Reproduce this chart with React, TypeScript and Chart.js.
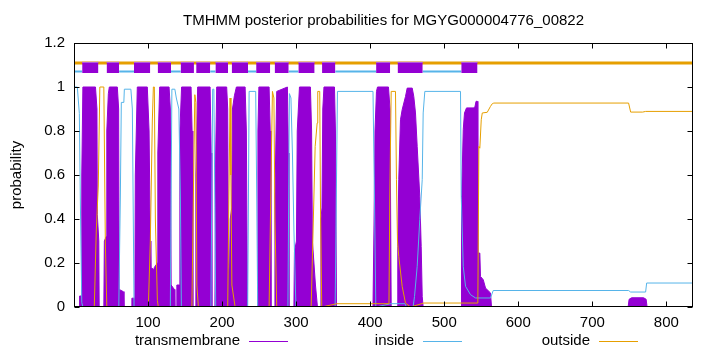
import { useEffect, useRef } from "react";
import { Chart, registerables } from "chart.js";

Chart.register(...registerables);

const TITLE = "TMHMM posterior probabilities for MGYG000004776_00822";
const Y_LABEL = "probability";
const SEQ_LENGTH = 836;
const X_TICKS = [100, 200, 300, 400, 500, 600, 700, 800];
const Y_TICKS = [0, 0.2, 0.4, 0.6, 0.8, 1, 1.2];
const LEGEND_LABELS = ["transmembrane", "inside", "outside"];

// predicted topology (top band)
const TM_START = [11, 44, 81, 113, 144, 165, 191, 213, 246, 271, 303, 335, 408, 437, 523];
const TM_END = [33, 61, 103, 131, 162, 184, 208, 235, 265, 290, 325, 353, 427, 471, 545];
const INSIDE_START = [0, 61, 131, 184, 235, 290, 353, 471];
const INSIDE_END = [11, 81, 144, 191, 246, 303, 408, 523];
const TOPO_OUTSIDE_Y = 1.109;
const TOPO_INSIDE_Y = 1.07;
const TOPO_TM_TOP = 1.112;
const TOPO_TM_BOTTOM = 1.064;

// posterior probabilities: [residue, probability]
const transmembrane: [number, number][] = [
  [0, 0], [7, 0], [7.5, 0.05], [10, 0.05], [10.5, 0.6], [12, 1], [29, 1], [31, 0.9], [31.5, 0.42], [33.5, 0.3], [34, 0],
  [40.3, 0], [41, 0.3], [43.5, 0.32], [44.3, 0.8], [46.4, 0.97], [47.7, 1], [58.5, 1], [60.3, 0.9], [61, 0.08], [66.5, 0.07], [67.5, 0],
  [77.8, 0], [78.2, 0.04], [82.2, 0.04], [82.8, 0.6], [85.5, 1], [99, 1], [101.4, 0.8], [103, 0.3], [103.8, 0.18], [107.8, 0.17],
  [108.5, 0.18], [112.6, 0.2], [113.2, 0.7], [115.7, 1], [128.4, 1], [130.1, 0.9], [131.2, 0.1], [135.5, 0.08], [136.2, 0],
  [138.2, 0], [138.9, 0.1], [142.3, 0.1], [143, 0.8], [145.3, 1], [158.1, 1], [159.5, 0.8], [160.5, 0],
  [163.6, 0], [164.6, 0.6], [167, 1], [183.8, 1], [185.3, 0.7], [186.2, 0],
  [190.3, 0], [191.4, 0.7], [192.7, 1], [206.2, 1], [207.6, 0.9], [208.5, 0.2], [210, 0.15], [211, 0.4], [213, 0.45], [214, 0.9],
  [216.6, 0.96], [219.3, 1], [231.1, 1], [232.8, 0.8], [234.2, 0],
  [247.4, 0], [248.4, 0.8], [249.7, 1], [263.5, 1], [265, 0.8], [266, 0],
  [270.4, 0], [271.4, 0.5], [273.8, 0.98], [288.2, 1], [289.6, 0.7], [290.3, 0],
  [297, 0], [297.7, 0.25], [300.4, 0.3], [301.5, 0.8], [304.5, 1], [319.3, 1], [320.9, 0.8], [322, 0.3], [326.1, 0.1], [328.8, 0],
  [332.8, 0], [333.5, 0.4], [334.9, 0.45], [336, 0.9], [337.6, 1], [351.8, 1], [353.1, 0.8], [354.5, 0],
  [403.8, 0], [405.1, 0.35], [406.5, 0.8], [408.5, 0.98], [409.9, 1], [424.7, 1], [426.8, 0.9], [428.4, 0],
  [436.5, 0], [437.3, 0.275], [438.6, 0.579], [440.9, 0.851], [443.2, 0.897], [447.7, 0.957], [450, 0.995], [456.8, 0.995],
  [458.9, 0.957], [461.2, 0.882], [463.5, 0.73], [467, 0.503], [468.9, 0.275], [470.3, 0.048], [471.6, 0],
  [523, 0], [523.4, 0.488], [525.7, 0.806], [527.4, 0.882], [530.1, 0.905], [540, 0.905], [541.6, 0.912], [543, 0.935],
  [544.6, 0.935], [545.4, 0.245], [548.1, 0.245], [549, 0.139], [552.7, 0.124], [555.8, 0.086], [562.5, 0.064], [563.9, 0],
  [748.4, 0], [749.7, 0.035], [753.1, 0.042], [769.3, 0.042], [772.7, 0.035], [774, 0], [836, 0],
];

const inside: [number, number][] = [
  [0, 1], [4.5, 1], [7.2, 0.88], [8.5, 0.5], [10.5, 0.02], [12, 0],
  [60.5, 0], [62.6, 0.5], [63.9, 0.93], [67.3, 0.93], [68, 0.99], [76.8, 0.99], [78.8, 0.9], [81.1, 0],
  [130.1, 0], [132.2, 0.99], [136.2, 0.99], [138.2, 0.95], [141.6, 0.9], [143.7, 0.5], [145, 0],
  [184.9, 0], [187.3, 0.99], [188.9, 0.99], [191.4, 0],
  [234.6, 0], [236.5, 0.98], [245.4, 0.98], [246.8, 0.5], [248.1, 0],
  [288.9, 0], [290.9, 0.97], [293, 0.95], [295, 0.7], [297, 0.35], [299.7, 0],
  [352.7, 0], [355.8, 0.98], [403.8, 0.98], [405.8, 0.5], [407.6, 0],
  [428, 0.015], [447, 0.015], [449, 0], [458, 0], [459.9, 0.048], [463.5, 0.185], [467, 0.397], [470.3, 0.579],
  [471.6, 0.882], [473.8, 0.98], [522, 0.98], [523, 0.503], [525.7, 0.185], [528.8, 0.094], [535.5, 0.056],
  [542.3, 0.041], [562.5, 0.041], [566.2, 0.075], [749, 0.075], [751.8, 0.068], [772, 0.068], [773.4, 0.109], [836, 0.109],
];

const outside: [number, number][] = [
  [0, 0], [27.4, 0], [30.1, 0.35], [32.8, 0.55], [34.9, 1], [40.3, 1], [42.3, 0.3], [44.3, 0],
  [100.4, 0], [103.1, 0.3], [105.8, 0.85], [107.2, 1], [108.5, 1], [109.9, 0.4], [112.6, 0.03], [113.9, 0],
  [159.2, 0], [161.2, 0.5], [163.2, 0.965], [164.6, 0.93], [165.9, 0.1], [168, 0],
  [207.6, 0], [209.2, 0.5], [210.8, 0.95], [211.9, 0.6], [213.2, 0.1], [217.6, 0],
  [263.5, 0], [266.2, 0.6], [268, 0.98], [270, 0.95], [271.4, 0.4], [273.8, 0],
  [320.3, 0], [325.7, 0.73], [328.4, 0.836], [329.2, 0.98], [331.9, 0.98], [332.8, 0.5], [334.6, 0], [355, 0.015],
  [425.4, 0.015], [426.5, 0.5], [428.4, 0.98], [434.2, 0.98], [435.5, 0.579], [436.9, 0.3], [438.6, 0.23], [443.2, 0.094],
  [447.7, 0.018], [454.5, 0], [472.4, 0.018], [545.4, 0.018], [546.8, 0.73], [548.1, 0.722], [550, 0.851], [551.4, 0.882],
  [558.1, 0.885], [562.5, 0.912], [564.9, 0.924], [567, 0.927], [749, 0.927], [751.8, 0.886], [768, 0.886], [772, 0.889], [836, 0.889],
];

const COLORS = { tm: "#9400D3", inside: "#56B4E9", outside: "#E69F00" };
const FONT = '"Liberation Sans", Arial, Helvetica, sans-serif';

const toXY = (arr: [number, number][]) => arr.map(([x, y]) => ({ x, y }));

const framePlugin = {
  id: "gnuplotFrame",
  afterDatasetsDraw(chart: any) {
    const { ctx, chartArea: a, scales } = chart;
    const L = Math.round(a.left) + 0.5;
    const R = Math.round(a.right) - 0.5;
    const T = Math.round(a.top) + 0.5;
    const B = Math.round(a.bottom) - 0.5;
    ctx.save();
    ctx.strokeStyle = "#000";
    ctx.lineWidth = 1;
    ctx.beginPath();
    X_TICKS.forEach((v) => {
      const x = Math.round(scales.x.getPixelForValue(v)) + 0.5;
      ctx.moveTo(x, B);
      ctx.lineTo(x, B - 5);
      ctx.moveTo(x, T);
      ctx.lineTo(x, T + 5);
    });
    Y_TICKS.forEach((v) => {
      const y = Math.round(scales.y.getPixelForValue(v)) + 0.5;
      ctx.moveTo(L, y);
      ctx.lineTo(L + 5, y);
      ctx.moveTo(R, y);
      ctx.lineTo(R - 5, y);
    });
    ctx.stroke();
    ctx.strokeRect(L, T, R - L, B - T);
    ctx.restore();
  },
  afterDraw(chart: any) {
    const { ctx, chartArea: a } = chart;
    ctx.save();
    ctx.fillStyle = "#000";
    ctx.font = `15px ${FONT}`;
    ctx.textAlign = "center";
    ctx.textBaseline = "middle";
    ctx.fillText(TITLE, (a.left + a.right) / 2, 21);
    ctx.save();
    ctx.translate(17, (a.top + a.bottom) / 2);
    ctx.rotate(-Math.PI / 2);
    ctx.fillText(Y_LABEL, 0, 0);
    ctx.restore();
    const legendY = 341;
    const textRight = [240, 414, 590];
    const colors = [COLORS.tm, COLORS.inside, COLORS.outside];
    ctx.textAlign = "right";
    LEGEND_LABELS.forEach((label, i) => {
      ctx.fillStyle = "#000";
      ctx.fillText(label, textRight[i], legendY);
      ctx.strokeStyle = colors[i];
      ctx.lineWidth = 1;
      ctx.beginPath();
      ctx.moveTo(textRight[i] + 9, legendY + 0.5);
      ctx.lineTo(textRight[i] + 48, legendY + 0.5);
      ctx.stroke();
    });
    ctx.restore();
  },
};

export default function App() {
  const ref = useRef<HTMLCanvasElement>(null);
  useEffect(() => {
    const insideBand: any[] = [];
    INSIDE_START.forEach((s, i) => {
      insideBand.push({ x: s, y: TOPO_INSIDE_Y }, { x: INSIDE_END[i], y: TOPO_INSIDE_Y }, { x: INSIDE_END[i], y: null });
    });
    const tmBoxes = TM_START.map((s, i) => ({
      data: [
        { x: s, y: TOPO_TM_TOP },
        { x: TM_END[i], y: TOPO_TM_TOP },
      ],
      borderColor: "#B564E6",
      backgroundColor: COLORS.tm,
      borderWidth: 1,
      fill: { value: TOPO_TM_BOTTOM },
      pointRadius: 0,
      order: 0,
    }));
    const chart = new Chart(ref.current as HTMLCanvasElement, {
      type: "line",
      data: {
        datasets: [
          ...tmBoxes,
          {
            data: [
              { x: 0, y: TOPO_OUTSIDE_Y },
              { x: SEQ_LENGTH, y: TOPO_OUTSIDE_Y },
            ],
            borderColor: COLORS.outside,
            borderWidth: 3,
            fill: false,
            pointRadius: 0,
            order: 5,
          },
          {
            data: insideBand,
            borderColor: COLORS.inside,
            borderWidth: 2,
            fill: false,
            spanGaps: false,
            pointRadius: 0,
            order: 4,
          },
          {
            data: toXY(outside),
            borderColor: COLORS.outside,
            borderWidth: 1,
            fill: false,
            pointRadius: 0,
            order: 1,
          },
          {
            data: toXY(inside),
            borderColor: COLORS.inside,
            borderWidth: 1,
            fill: false,
            pointRadius: 0,
            order: 2,
          },
          {
            data: toXY(transmembrane),
            borderColor: COLORS.tm,
            backgroundColor: COLORS.tm,
            borderWidth: 1,
            fill: "origin",
            pointRadius: 0,
            order: 3,
          },
        ] as any,
      },
      options: {
        animation: false,
        responsive: false,
        devicePixelRatio: 1,
        layout: { padding: { top: 43, right: 27, left: 0, bottom: 0 } },
        elements: { point: { radius: 0 }, line: { tension: 0 } },
        plugins: {
          legend: { display: false },
          title: { display: false },
          tooltip: { enabled: false },
        },
        scales: {
          x: {
            type: "linear",
            min: 0,
            max: SEQ_LENGTH,
            grid: { display: false, drawTicks: false },
            border: { display: false },
            afterFit: (s: any) => {
              s.height = 45;
            },
            afterBuildTicks: (s: any) => {
              s.ticks = X_TICKS.map((v) => ({ value: v }));
            },
            ticks: {
              padding: 7,
              color: "#000",
              font: { family: FONT, size: 15 },
              maxRotation: 0,
              autoSkip: false,
              callback: (v: any) => String(v),
            },
          },
          y: {
            type: "linear",
            min: 0,
            max: 1.2,
            grid: { display: false, drawTicks: false },
            border: { display: false },
            afterFit: (s: any) => {
              s.width = 74;
            },
            afterBuildTicks: (s: any) => {
              s.ticks = Y_TICKS.map((v) => ({ value: v }));
            },
            ticks: {
              padding: 9,
              color: "#000",
              font: { family: FONT, size: 15 },
              autoSkip: false,
              callback: (v: any) => String(Math.round(Number(v) * 10) / 10),
            },
          },
        },
      },
      plugins: [framePlugin],
    });
    return () => chart.destroy();
  }, []);
  return (
    <div style={{ position: "fixed", left: 0, top: 0, width: 720, height: 352, background: "#fff" }}>
      <canvas ref={ref} width={720} height={352} style={{ display: "block", width: 720, height: 352 }} />
    </div>
  );
}
